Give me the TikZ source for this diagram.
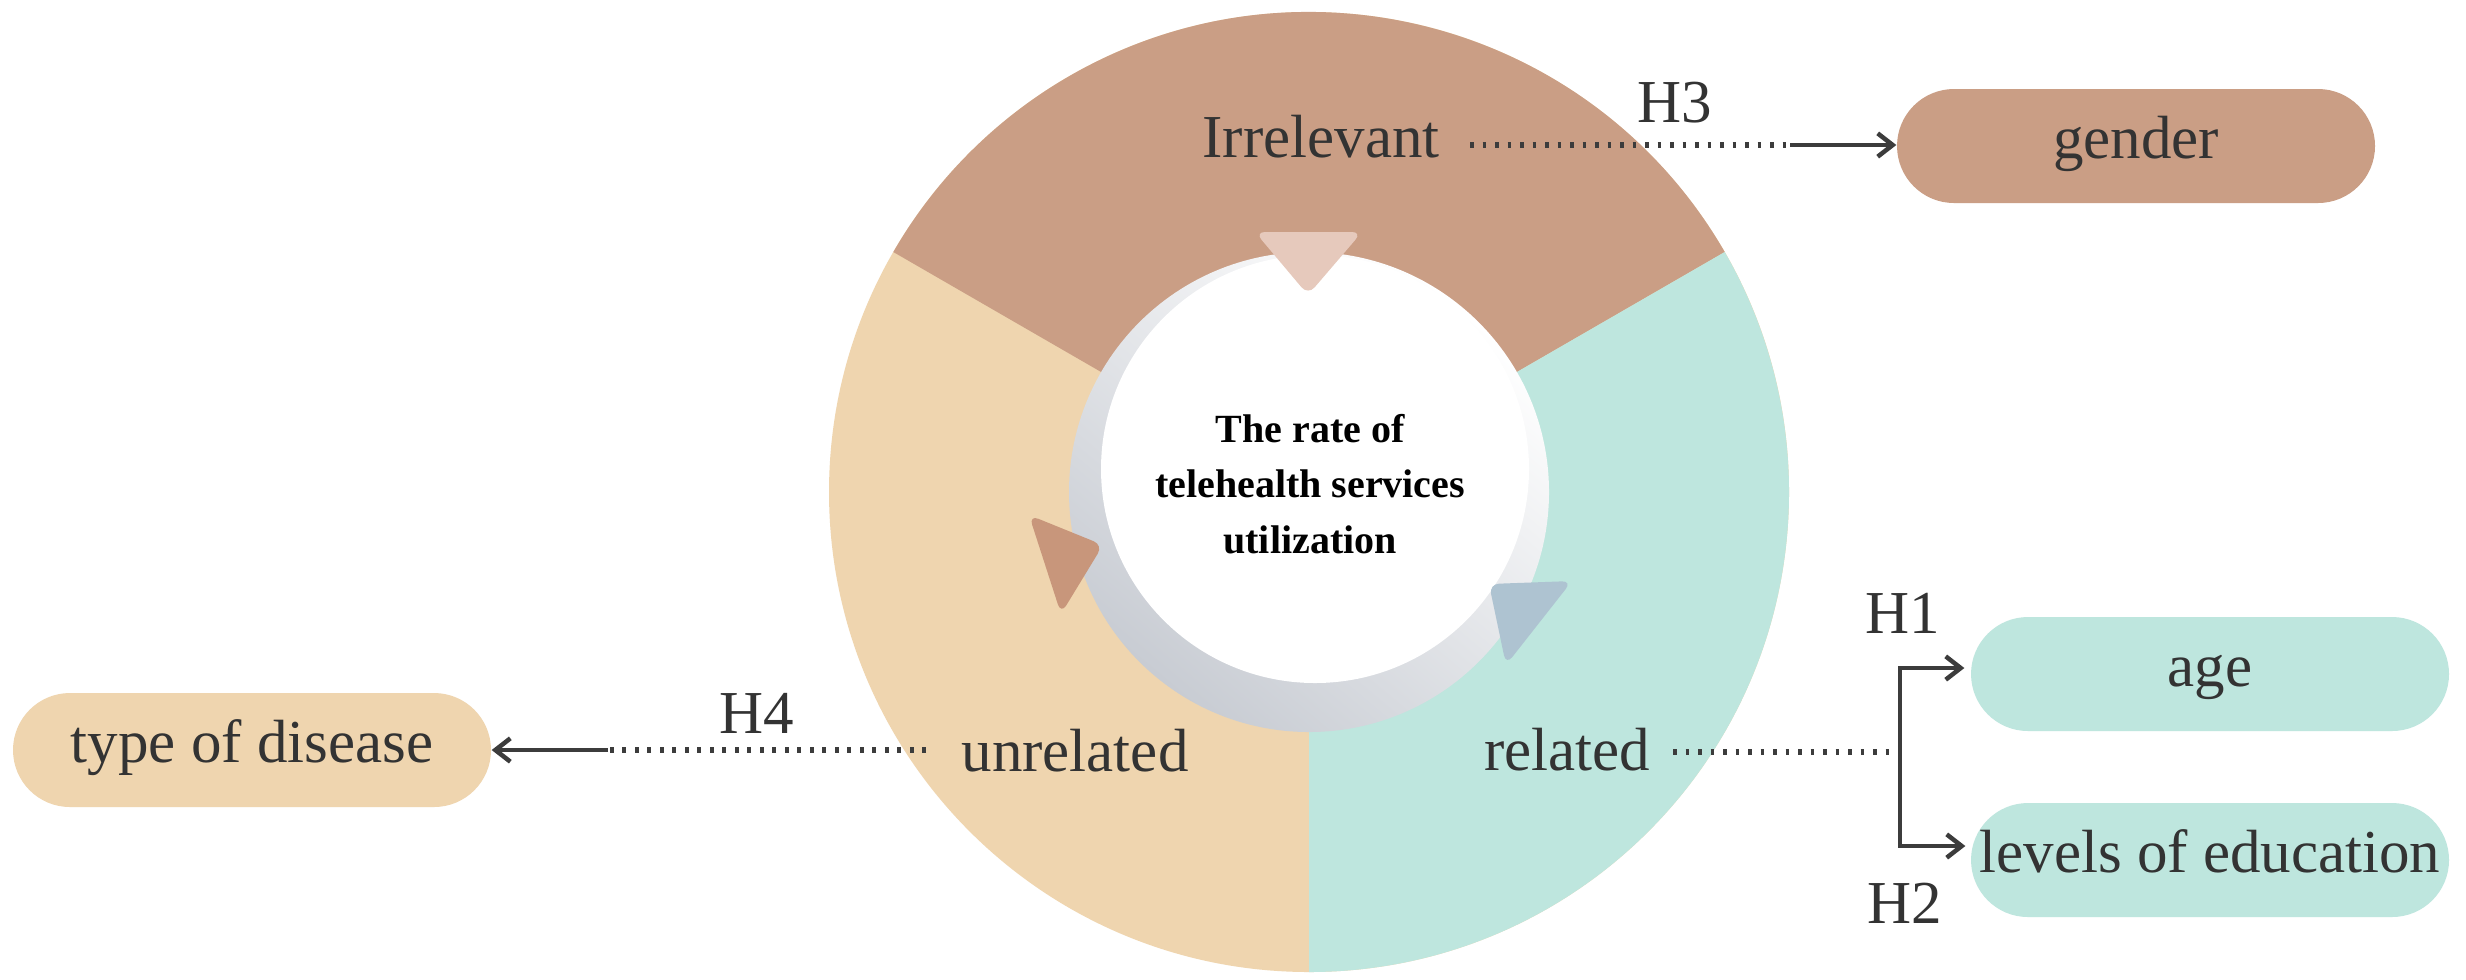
\documentclass[tikz,border=0pt]{standalone}
\usepackage{fontspec}
\setmainfont{Liberation Serif}
\usetikzlibrary{arrows.meta,calc}
\definecolor{cbrown}{HTML}{CA9E85}
\definecolor{ctan}{HTML}{EFD5AF}
\definecolor{cteal}{HTML}{BEE6DE}
\definecolor{ctoptri}{HTML}{E6C9BC}
\definecolor{clefttri}{HTML}{C8967B}
\definecolor{cbluetri}{HTML}{AEC3D1}
\definecolor{cshadow}{HTML}{C8CCD3}
\definecolor{ctext}{HTML}{333333}
\definecolor{cline}{HTML}{3C3C3C}
\begin{document}
\begin{tikzpicture}[x=0.3pt,y=-0.3pt,
  lbl/.style={font=\fontsize{18.3pt}{22pt}\selectfont, text=ctext, inner sep=0pt, anchor=base},
  pill/.style={fill=#1, rounded corners=17.1pt, minimum width=143.4pt, minimum height=34.2pt,
    inner sep=0pt, text height=12.4pt, text depth=5.1pt, font=\fontsize{18.3pt}{22pt}\selectfont, text=ctext},
  dotline/.style={draw=cline, line width=1.9pt, dash pattern=on 1.1pt off 2.65pt},
  arr/.style={draw=cline, line width=1.35pt, -{Straight Barb[length=4.5pt,width=7pt]}},
  centre/.style={font=\bfseries\fontsize{12pt}{16.6pt}\selectfont, text=black, align=center, inner sep=0pt}
]
\useasboundingbox (0,0) rectangle (2466,979);
\fill[white] (0,0) rectangle (2466,979);

% ring
\coordinate (C) at (1309,492);
\fill[ctan] (C) circle[radius=144pt];
\fill[cbrown] (C) -- ($(C)+(30:144pt)$) arc[start angle=30,end angle=150,radius=144pt] -- cycle;
\fill[cteal] (C) -- ($(C)+(270:144pt)$) arc[start angle=270,end angle=390,radius=144pt] -- cycle;

% hole with shadow and white disc
\path[top color=white, bottom color=cshadow, shading angle=-40] (C) circle[radius=72pt];
\fill[white] (1315,469) circle[radius=64.2pt];

% triangles
\fill[ctoptri, rounded corners=3pt] (1255,232) -- (1362,232) -- (1308,295) -- cycle;
\fill[clefttri, rounded corners=3pt] (1029,515) -- (1103,545) -- (1061,614) -- cycle;
\fill[cbluetri, rounded corners=3pt] (1489,584) -- (1572,581) -- (1506,665) -- cycle;

% centre text
\node[centre] (ctr) at (1310,484) {The rate of\\telehealth services\\utilization};

% segment labels
\node[lbl] (irr) at (1321,157) {Irrelevant};
\node[lbl] (unrel) at (1075,771) {unrelated};
\node[lbl] (rel) at (1567,770) {related};

% boxes
\node[pill=cbrown] (gender) at (2136,146) {gender};
\node[pill=cteal] (age) at (2210,674) {age};
\node[pill=cteal] (edu) at (2210,860) {levels of education};
\node[pill=ctan] (dis) at (252,750) {type of disease};

% hypothesis labels
\node[lbl] (h3) at (1675,122) {H3};
\node[lbl] (h4) at (757,733) {H4};
\node[lbl] (h1) at (1903,633) {H1};
\node[lbl] (h2) at (1905,923) {H2};

% connectors
\coordinate (h3s) at (1470,145);
\coordinate (h3m) at (1790,145);
\draw[dotline] (h3s) -- (h3m);
\draw[arr] (h3m) -- (gender.west |- h3m);

\coordinate (h4s) at (926,750);
\coordinate (h4m) at (608,750);
\draw[dotline] (h4s) -- (h4m);
\draw[arr] (h4m) -- (dis.east);

\coordinate (rs) at (1673,752);
\coordinate (jm) at (1900,752);
\draw[dotline] (rs) -- (jm);
\draw[arr, shorten >=1.8pt] (jm) |- ([yshift=1.8pt]age.west);
\draw[arr, shorten >=1.5pt] (jm) |- ([yshift=4.2pt]edu.west);
\end{tikzpicture}
\end{document}
